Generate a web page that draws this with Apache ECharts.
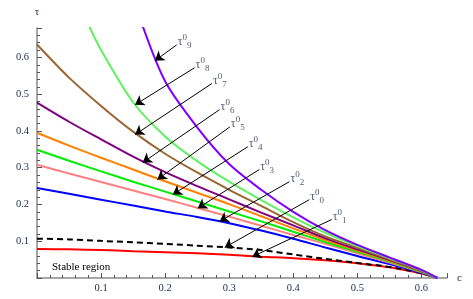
<!DOCTYPE html>
<html>
<head>
<meta charset="utf-8">
<script src="https://cdn.jsdelivr.net/npm/echarts@6/dist/echarts.min.js"></script>
<style>html,body{margin:0;padding:0;background:#fff;}#chart{width:473px;height:299px;}</style>
</head>
<body>
<div id="chart"></div>
<script>
// c values shared by most curves
const cVals = [0, 0.05, 0.1, 0.15, 0.2, 0.25, 0.3, 0.35, 0.4, 0.45, 0.5, 0.55, 0.6, 0.625];
const tau1 = [0.079, 0.078, 0.076, 0.073, 0.070, 0.067, 0.063, 0.058, 0.054, 0.048, 0.040, 0.029, 0.012, 0];
const tau0 = [0.107, 0.105, 0.101, 0.097, 0.093, 0.088, 0.083, 0.076, 0.064, 0.052, 0.041, 0.030, 0.013, 0];
const tau2 = [0.245, 0.229, 0.213, 0.197, 0.181, 0.166, 0.149, 0.129, 0.107, 0.083, 0.060, 0.038, 0.014, 0];
const tau3 = [0.308, 0.284, 0.261, 0.238, 0.215, 0.191, 0.167, 0.142, 0.117, 0.093, 0.067, 0.042, 0.016, 0];
const tau4 = [0.349, 0.319, 0.290, 0.262, 0.235, 0.208, 0.181, 0.154, 0.126, 0.098, 0.071, 0.045, 0.017, 0];
const tau5 = [0.395, 0.360, 0.327, 0.295, 0.263, 0.232, 0.201, 0.168, 0.135, 0.103, 0.075, 0.047, 0.018, 0];
const tau6 = [0.477, 0.425, 0.377, 0.330, 0.288, 0.250, 0.214, 0.178, 0.143, 0.108, 0.078, 0.049, 0.019, 0];
const tau7 = [0.635, 0.545, 0.468, 0.398, 0.338, 0.287, 0.240, 0.196, 0.152, 0.113, 0.082, 0.051, 0.020, 0];
const c8   = [0.08, 0.1, 0.15, 0.2, 0.25, 0.3, 0.35, 0.4, 0.45, 0.5, 0.55, 0.6, 0.625];
const tau8 = [0.69, 0.62, 0.478, 0.385, 0.318, 0.262, 0.212, 0.165, 0.123, 0.087, 0.054, 0.021, 0];
const c9   = [0.16, 0.2, 0.25, 0.3, 0.35, 0.4, 0.45, 0.5, 0.55, 0.6, 0.625];
const tau9 = [0.71, 0.535, 0.41, 0.31, 0.24, 0.18, 0.13, 0.09, 0.056, 0.022, 0];

// annotation arrows: label index, tail [c, tau], head [c, tau]
const annIdx   = ['9', '8', '7', '6', '5', '4', '3', '2', '0', '1'];
const annTail  = [[0.218,0.634],[0.246,0.572],[0.273,0.529],[0.285,0.458],[0.301,0.411],[0.329,0.357],[0.347,0.295],[0.394,0.262],[0.425,0.213],[0.460,0.159]];
const annHead  = [[0.184,0.591],[0.153,0.471],[0.153,0.390],[0.165,0.314],[0.188,0.268],[0.212,0.227],[0.251,0.190],[0.285,0.154],[0.293,0.083],[0.336,0.058]];

const xTicks = [0.1, 0.2, 0.3, 0.4, 0.5, 0.6];
const yTicks = [0.1, 0.2, 0.3, 0.4, 0.5, 0.6];

function pairs(xs, ys) { return xs.map((x, i) => [x, ys[i]]); }

const curves = [
  {name: 'τ01', c: cVals, v: tau1, color: '#ff0000'},
  {name: 'τ00', c: cVals, v: tau0, color: '#000000', dash: [6, 4]},
  {name: 'τ02', c: cVals, v: tau2, color: '#0000ff'},
  {name: 'τ03', c: cVals, v: tau3, color: '#ff8080'},
  {name: 'τ04', c: cVals, v: tau4, color: '#00ee00'},
  {name: 'τ05', c: cVals, v: tau5, color: '#ff8000'},
  {name: 'τ06', c: cVals, v: tau6, color: '#800080'},
  {name: 'τ07', c: cVals, v: tau7, color: '#996633'},
  {name: 'τ08', c: c8, v: tau8, color: '#5ef35e'},
  {name: 'τ09', c: c9, v: tau9, color: '#8000ff'}
];

const labelColor = '#1f2748';
const serif = '"Liberation Serif", "DejaVu Serif", serif';
function tickFmt(list) {
  return function (v) {
    for (const t of list) if (Math.abs(v - t) < 1e-6) return t.toFixed(1);
    return '';
  };
}

const series = curves.map(cv => ({
  type: 'line', name: cv.name, data: pairs(cv.c, cv.v),
  showSymbol: false, smooth: 0.3,
  lineStyle: {color: cv.color, width: 2, type: cv.dash || 'solid'},
  itemStyle: {color: cv.color}, z: 2
}));

series.push({
  type: 'line', data: [], z: 3, silent: true,
  markLine: {
    silent: true, animation: false,
    symbol: ['none', 'arrow'], symbolSize: 9,
    lineStyle: {color: '#000', width: 1, type: 'solid'},
    label: {show: false},
    emphasis: {disabled: true},
    data: annTail.map((t, i) => [{coord: t}, {coord: annHead[i]}])
  }
});

series.push({
  type: 'scatter', symbolSize: 0, z: 4,
  data: annTail.map((t, i) => ({value: t, idx: annIdx[i]})),
  label: {
    show: true, position: 'right', distance: 1, offset: [0, -3],
    formatter: p => '{t|τ}{sup|0}{sub|' + p.data.idx + '}',
    rich: {
      t: {fontFamily: serif, fontSize: 12, color: labelColor},
      sup: {fontFamily: serif, fontSize: 9, color: labelColor, padding: [0, 0, 8, 0]},
      sub: {fontFamily: serif, fontSize: 9, color: labelColor, padding: [8, 0, 0, 0]}
    }
  }
});

const axisCommon = {
  type: 'value', interval: 0.1, min: 0,
  axisLine: {show: true, onZero: false, lineStyle: {color: '#8a8a8a', width: 1.5}},
  axisTick: {show: true, inside: true, length: 5, lineStyle: {color: '#555', width: 1}},
  minorTick: {show: true, splitNumber: 5, length: 3, lineStyle: {color: '#555', width: 1}},
  splitLine: {show: false},
  minorSplitLine: {show: false},
  nameTextStyle: {fontFamily: serif, fontSize: 11, color: labelColor}
};

const chart = echarts.init(document.getElementById('chart'), null, {renderer: 'canvas'});
chart.setOption({
  animation: false,
  backgroundColor: '#ffffff',
  grid: {left: 37, right: 26, top: 28, bottom: 21, containLabel: false, outerBoundsMode: 'none'},
  xAxis: Object.assign({}, axisCommon, {
    max: 0.64, name: 'c', nameLocation: 'end', nameGap: 10,
    axisLabel: {formatter: tickFmt(xTicks), fontFamily: serif, fontSize: 10.5, color: labelColor, margin: 5}
  }),
  yAxis: Object.assign({}, axisCommon, {
    max: 0.68, name: 'τ', nameLocation: 'end', nameGap: 10,
    nameTextStyle: {fontFamily: serif, fontSize: 11, color: labelColor, align: 'center'},
    axisLabel: {formatter: tickFmt(yTicks), fontFamily: serif, fontSize: 10.5, color: labelColor, margin: 8}
  }),
  graphic: [{
    type: 'text', left: 52, top: 262,
    style: {text: 'Stable region', fontFamily: serif, fontSize: 11, fill: '#000'}
  }],
  series: series
});
</script>
</body>
</html>
